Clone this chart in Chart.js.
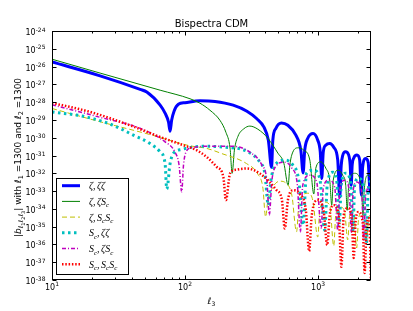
<!DOCTYPE html>
<html><head><meta charset="utf-8">
<script src="https://cdn.jsdelivr.net/npm/chart.js@4/dist/chart.umd.min.js"></script>
<style>html,body{margin:0;padding:0;background:#fff;overflow:hidden}canvas{display:block}</style>
</head><body>
<canvas id="c" width="413" height="311" style="width:413px;height:311px"></canvas>
<script>
// ---------- data ----------
const titleText = 'Bispectra CDM';
const seriesNames = ['ζ,ζζ', 'ζ,ζS_c', 'ζ,S_cS_c', 'S_c,ζζ', 'S_c,ζS_c', 'S_c,S_cS_c'];
const xMin = 10, xMax = 2500, yMin = 1e-38, yMax = 1e-24;
const xTickValues = [10,20,30,40,50,60,70,80,90,100,200,300,400,500,600,700,800,900,1000,2000];
const xLabelValues = [10, 100, 1000];
const xLabelTexts = ['10^1', '10^2', '10^3'];
const yTickValues = [1e-38,1e-37,1e-36,1e-35,1e-34,1e-33,1e-32,1e-31,1e-30,1e-29,1e-28,1e-27,1e-26,1e-25,1e-24];
const yLabelTexts = ['10^-38','10^-37','10^-36','10^-35','10^-34','10^-33','10^-32','10^-31','10^-30','10^-29','10^-28','10^-27','10^-26','10^-25','10^-24'];

// zeta, zeta zeta
const ellZZZ = [10,23,46,51.6,65,70.8,75.2,77.2,79.3,82.7,89.1,100,129.6,168,230,292,345,392,423,447,457,482,531,593,681,742,772,794,837,917,995,1039,1066,1094,1143,1224,1312,1406,1455,1493,1532,1606,1700,1744,1774,1805,1853,1961,2056,2116,2163,2280,2380,2464,2506];
const bZZZ = [1.8e-26,3.0e-27,5.2e-28,3.7e-28,6.8e-29,2.4e-29,7.4e-30,2.3e-30,9.5e-30,3.1e-29,7.6e-29,9.3e-29,1.2e-28,1.1e-28,6.8e-29,3.1e-29,1.2e-29,3.9e-30,7.2e-31,2.2e-32,7.2e-31,3.4e-30,6.8e-30,5.0e-30,1.4e-30,2.0e-31,1.05e-32,2.0e-31,9.3e-31,1.7e-30,7.2e-31,1.55e-31,5.1e-33,1.55e-31,3.8e-31,4.7e-31,2.9e-31,5.5e-32,4.6e-34,2.8e-32,1.0e-31,1.6e-31,1.05e-31,2.9e-32,2.1e-33,2.9e-32,7.1e-32,1.05e-31,5.5e-32,5.9e-34,2.2e-32,6.8e-32,4.2e-32,8.7e-34,2.9e-32];
// zeta, zeta S_c
const ellZZS = [10,23,65,109,129.6,154,183,203,218,226,235,250,277,307,353,420,499,553,596,614,646,708,781,867,929,962,1047,1143,1224,1267,1301,1418,1532,1614,1656,1700,1884,2056,2128,2176,2223,2360,2506];
const bZZS = [2.6e-26,4.3e-27,4.7e-28,1.55e-28,8.7e-29,3.5e-29,9.5e-30,2.0e-30,2.6e-31,1.0e-32,2.0e-31,1.2e-30,3.2e-30,4.5e-30,3.0e-30,9.3e-31,1.35e-31,3.7e-32,2.1e-33,2.9e-32,1.55e-31,2.7e-31,2.0e-31,5.5e-32,6.8e-34,1.95e-32,4.4e-32,1.95e-32,4.1e-33,1.6e-34,4.1e-33,1.5e-32,7.8e-33,2.1e-33,8.3e-35,2.1e-33,1.0e-32,5.3e-33,1.1e-33,4.5e-35,1.1e-33,7.8e-33,5.3e-33];
// zeta, S_c S_c
const ellZSS = [10,23,54.6,109,145.5,188,290,353,385,403,420,457,516,573,635,689,716,767,837,912,995,1030,1122,1224,1312,1358,1480,1585,1670,1730,1853,1950,2018,2163,2317,2399,2506];
const bZSS = [4.4e-29,7.9e-30,1.5e-30,3.5e-31,2.5e-31,1.3e-31,3.5e-32,8.9e-33,1.45e-33,3.5e-35,3.1e-34,1.65e-33,3.6e-33,2.8e-33,5.9e-34,5.1e-36,1.6e-34,5.9e-34,7.6e-34,3.1e-34,2.6e-36,8.5e-35,2.4e-34,1.6e-34,8.1e-37,4.5e-35,1.25e-34,6.6e-35,1.8e-36,4.5e-35,8.5e-35,6.3e-37,3.0e-35,6.6e-35,1.8e-36,3.0e-35,5.0e-35];
// S_c, zeta zeta
const ellSZZ = [10,17.2,27.4,40.9,54.6,64.9,70.8,72.9,77.2,81.7,94.4,133,194,298,365,398,423,442,501,562,646,716,772,818,917,1030,1122,1172,1288,1380,1442,1493,1614,1758,1830,1884,2018,2203,2307,2380,2506];
const bSZZ = [2.8e-29,1.6e-29,5.8e-30,1.4e-30,4.7e-31,1.6e-31,3.5e-32,1.3e-33,3.5e-32,1.3e-31,2.2e-31,3.3e-31,3.0e-31,1.6e-31,4.2e-32,9.8e-33,1.6e-34,4.1e-33,4.4e-32,5.5e-32,2.9e-32,4.1e-33,1.2e-35,9.8e-33,1.5e-32,5.2e-33,6.3e-36,2.1e-33,1.15e-32,4.1e-33,1.2e-35,2.1e-33,1.0e-32,3.2e-33,4.9e-36,2.1e-33,5.3e-33,1.45e-33,1.2e-36,1.1e-33,4.1e-33];
// S_c, zeta S_c
const ellSZS = [10,23,45.9,70.8,84.1,90.2,94.4,97.4,101.7,112.8,154,229,307,378,412,430,450,490,553,635,699,736,767,867,977,1057,1094,1202,1334,1406,1455,1585,1714,1780,1837,1950,2128,2203,2280,2506];
const bSZS = [7.1e-29,1.4e-29,3.4e-30,5.8e-31,1.55e-31,2.9e-32,9.1e-34,2.9e-32,1.55e-31,2.75e-31,3.3e-31,3.3e-31,1.55e-31,2.9e-32,4.1e-33,4.5e-35,4.1e-33,2.9e-32,4.2e-32,1.95e-32,2.1e-33,4.9e-36,2.1e-33,7.8e-33,3.2e-33,8.3e-36,1.45e-33,4.1e-33,1.65e-33,6.3e-36,1.1e-33,4.1e-33,1.1e-33,4.9e-36,1.1e-33,3.2e-33,8.7e-34,1.8e-36,5.9e-34,2.1e-33];
// S_c, S_c S_c
const ellSSS = [10,19.4,38.6,64.9,97,122,145.5,173,194,203,218,244,290,365,488,535,562,593,649,729,809,856,897,995,1104,1172,1224,1312,1429,1498,1560,1670,1791,1853,1919,2018,2163,2239,2317,2421,2495];
const bSSS = [9.1e-29,2.8e-29,5.0e-30,1.1e-30,3.8e-31,2.0e-31,8.3e-32,2.3e-32,6.3e-33,3.1e-34,9.8e-33,1.6e-32,1.85e-32,9.8e-33,1.1e-33,3.1e-34,7.9e-36,3.1e-34,1.1e-33,6.8e-34,8.5e-35,4.2e-37,4.5e-35,3.1e-34,6.6e-35,9.3e-37,4.5e-35,1.6e-34,4.5e-35,5.5e-38,4.5e-35,1.1e-34,3.0e-35,1.75e-37,2.35e-35,6.6e-35,1.8e-35,2.5e-38,1.2e-35,3.0e-35,1.1e-38];

// ---------- styles ----------
const seriesEll = [ellZZZ, ellZZS, ellZSS, ellSZZ, ellSZS, ellSSS];
const seriesB = [bZZZ, bZZS, bZSS, bSZZ, bSZS, bSSS];
const colors = ['#0000ff', '#008000', '#bfbf00', '#00bfbf', '#bf00bf', '#ff0000'];
const widths = [3, 1, 1, 3, 1.5, 2.5];
const dashes = [[], [], [5, 3], [2.5, 3.5], [4, 2, 1, 2], [1.5, 1.8]];

const SANS = "'DejaVu Sans'";
const SERIF = "'Liberation Serif'";

function fontOf(s) { return (s.i ? 'italic ' : '') + s.s + 'px ' + (s.f || SANS); }
function drawRich(ctx, segs, x, y, align) {
  let total = 0;
  segs.forEach(s => { ctx.font = fontOf(s); s.w = ctx.measureText(s.t).width + (s.g || 0); total += s.w; });
  let cx = align === 'center' ? x - total / 2 : align === 'right' ? x - total : x;
  ctx.textAlign = 'left'; ctx.textBaseline = 'alphabetic';
  segs.forEach(s => { ctx.font = fontOf(s); ctx.fillText(s.t, cx, y + (s.dy || 0)); cx += s.w; });
}
function powSegs(txt, base, exp, raise) {
  const p = txt.split('^');
  return [{t: p[0], s: base}, {t: p[1], s: exp, dy: -raise}];
}
function legendSegs(txt) {
  const segs = [];
  for (let k = 0; k < txt.length; k++) {
    const ch = txt[k];
    if (ch === '_') { segs.push({t: txt[k + 1], s: 7, i: true, dy: 2.5, f: SERIF}); k++; }
    else if (ch === ',') segs.push({t: ',', s: 10, f: SERIF, g: 1.5});
    else segs.push({t: ch, s: 10, i: true, f: SERIF});
  }
  return segs;
}

const decor = {
  id: 'decor',
  afterDraw(chart) {
    const ctx = chart.ctx, a = chart.chartArea, xs = chart.scales.x, ys = chart.scales.y;
    ctx.save();
    ctx.strokeStyle = '#000'; ctx.fillStyle = '#000'; ctx.lineWidth = 1;
    const L = Math.round(a.left) + 0.5, R = Math.round(a.right) - 0.5, T = Math.round(a.top) + 0.5, B = Math.round(a.bottom) - 0.5;
    ctx.strokeRect(L, T, R - L, B - T);
    // inward ticks
    ctx.beginPath();
    xTickValues.forEach(v => {
      const px = Math.round(xs.getPixelForValue(v)) + 0.5;
      const len = xLabelValues.includes(v) ? 4 : 2;
      ctx.moveTo(px, B); ctx.lineTo(px, B - len);
      ctx.moveTo(px, T); ctx.lineTo(px, T + len);
    });
    yTickValues.forEach(v => {
      const py = Math.round(ys.getPixelForValue(v)) + 0.5;
      ctx.moveTo(L, py); ctx.lineTo(L + 4, py);
      ctx.moveTo(R, py); ctx.lineTo(R - 4, py);
    });
    ctx.stroke();
    // tick labels
    xLabelValues.forEach((v, k) => {
      drawRich(ctx, powSegs(xLabelTexts[k], 8, 6, 4), xs.getPixelForValue(v), a.bottom + 10, 'center');
    });
    yTickValues.forEach((v, k) => {
      drawRich(ctx, powSegs(yLabelTexts[k], 8, 6, 3.5), a.left - 6.5, ys.getPixelForValue(v) + 4, 'right');
    });
    // title
    ctx.font = '10px ' + SANS; ctx.textAlign = 'center'; ctx.textBaseline = 'alphabetic';
    ctx.fillText(titleText, (a.left + a.right) / 2, a.top - 4);
    // x axis label
    drawRich(ctx, [{t: 'ℓ', s: 9, i: true}, {t: '3', s: 6, dy: 2}], (a.left + a.right) / 2, 303.5, 'center');
    // y axis label
    ctx.save();
    ctx.translate(21, (a.top + a.bottom) / 2 + 2);
    ctx.rotate(-Math.PI / 2);
    const sub = (t) => ({t: t, s: 6.5, i: true, dy: 2});
    const sub2 = (t) => ({t: t, s: 5, dy: 3.5});
    drawRich(ctx, [
      {t: '|', s: 9}, {t: 'b', s: 9, i: true},
      sub('ℓ'), sub2('1'), sub('ℓ'), sub2('2'), sub('ℓ'), sub2('3'),
      {t: '| with ', s: 9}, {t: 'ℓ', s: 9, i: true}, {t: '1', s: 6.5, dy: 2},
      {t: ' =1300 and ', s: 9}, {t: 'ℓ', s: 9, i: true}, {t: '2', s: 6.5, dy: 2},
      {t: ' =1300', s: 9}
    ], 0, 0, 'center');
    ctx.restore();
    // legend
    const bx = a.left + 4.5, by = 178.5, bw = 72, bh = 96;
    ctx.fillStyle = '#fff'; ctx.fillRect(bx, by, bw, bh);
    ctx.strokeStyle = '#000'; ctx.lineWidth = 1; ctx.strokeRect(bx, by, bw, bh);
    chart.data.datasets.forEach((ds, k) => {
      const cy = by + 7.2 + k * 15.7;
      ctx.save();
      ctx.strokeStyle = ds.borderColor; ctx.lineWidth = ds.borderWidth;
      ctx.setLineDash(ds.borderDash); ctx.lineCap = 'butt';
      ctx.beginPath(); ctx.moveTo(bx + 5.5, cy); ctx.lineTo(bx + 23.5, cy); ctx.stroke();
      ctx.restore();
      ctx.fillStyle = '#000';
      drawRich(ctx, legendSegs(ds.label), bx + 32.5, cy + 3.5, 'left');
    });
    ctx.restore();
  }
};

new Chart(document.getElementById('c'), {
  type: 'line',
  data: {
    datasets: seriesNames.map((name, i) => ({
      label: name,
      data: seriesEll[i].map((x, j) => ({x: x, y: seriesB[i][j]})),
      borderColor: colors[i], borderWidth: widths[i], borderDash: dashes[i],
      borderJoinStyle: 'round', pointRadius: 0, cubicInterpolationMode: 'monotone', fill: false,
      order: 5 - i, clip: 0
    }))
  },
  options: {
    responsive: false, animation: false, devicePixelRatio: 1, events: [],
    layout: {padding: {left: 0, right: 42, top: 31, bottom: 0}},
    plugins: {legend: {display: false}, title: {display: false}, tooltip: {enabled: false}},
    scales: {
      x: {type: 'logarithmic', min: xMin, max: xMax,
          ticks: {display: false}, grid: {display: false}, border: {display: false},
          afterBuildTicks(s) { s.ticks = xTickValues.map(v => ({value: v})); },
          afterFit(s) { s.height = 31; }},
      y: {type: 'logarithmic', min: yMin, max: yMax,
          ticks: {display: false}, grid: {display: false}, border: {display: false},
          afterBuildTicks(s) { s.ticks = yTickValues.map(v => ({value: v})); },
          afterFit(s) { s.width = 52; }}
    }
  },
  plugins: [decor]
});
</script>
</body></html>
